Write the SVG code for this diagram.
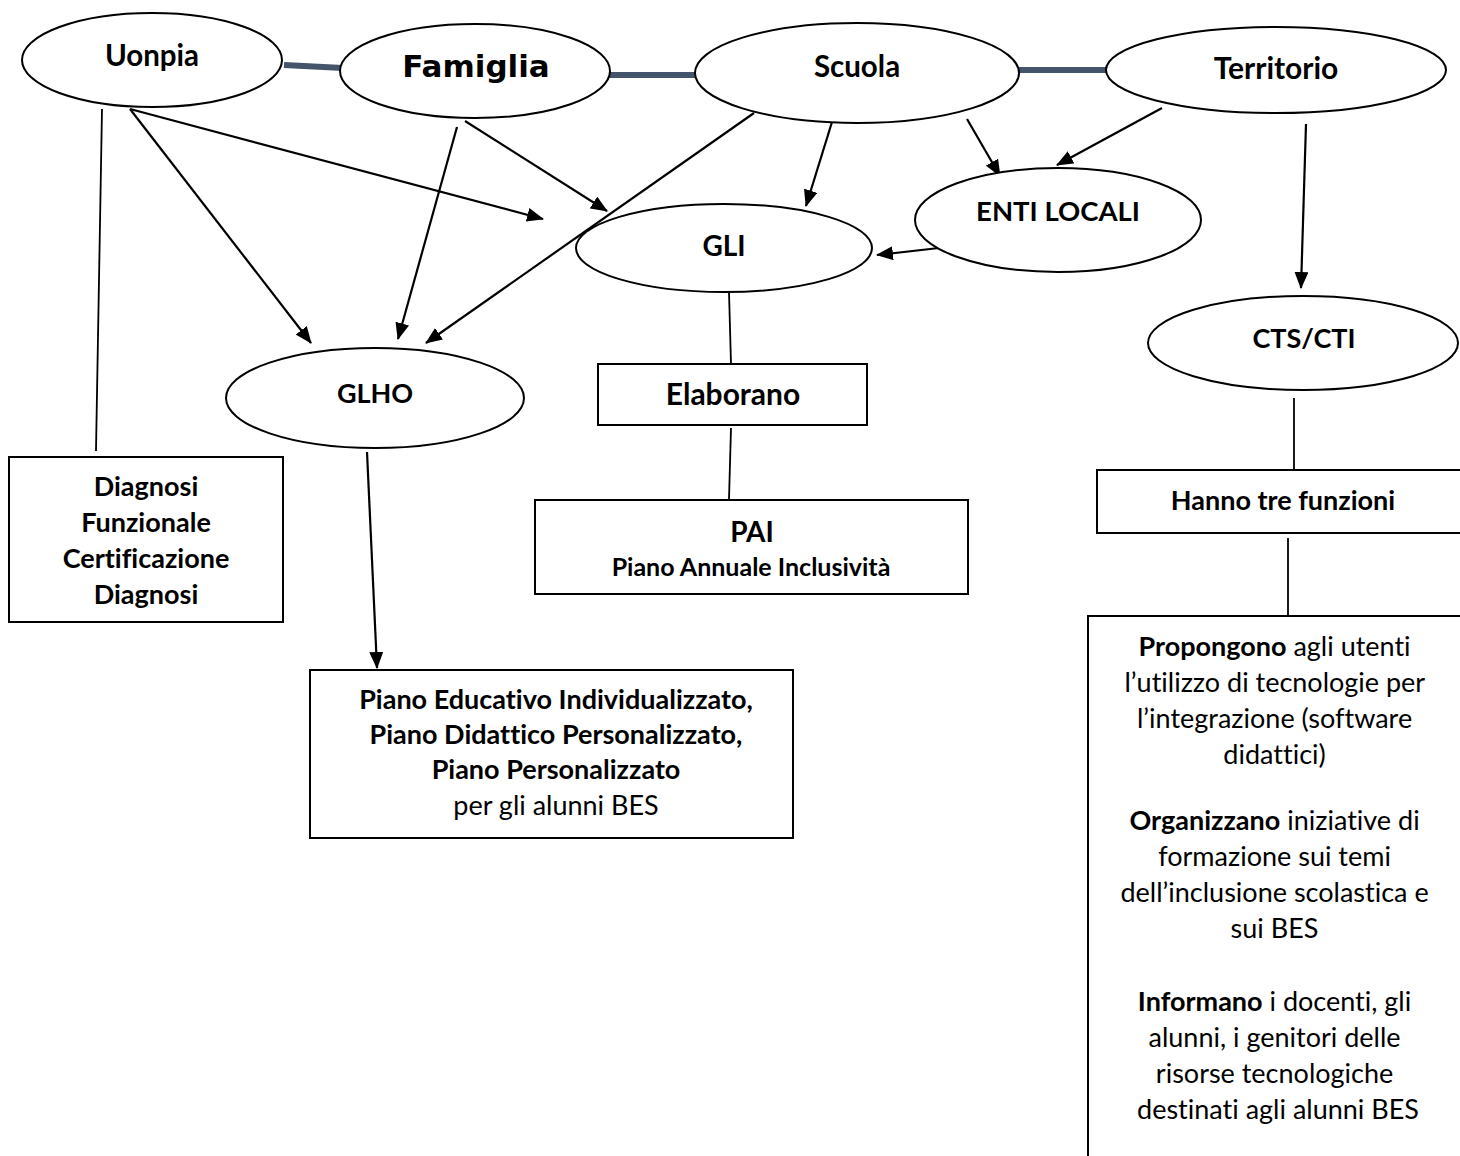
<svg xmlns="http://www.w3.org/2000/svg" width="1460" height="1156" viewBox="0 0 1460 1156">
<defs>
<style>
text{font-variant-ligatures:none;font-feature-settings:"liga" 0,"clig" 0,"dlig" 0}
.n{fill:#fff;stroke:#000;stroke-width:2}
.t{font-family:Lato,"Liberation Sans",sans-serif;font-weight:bold;font-size:28px;text-anchor:middle;fill:#000}
.b{font-family:Lato,"Liberation Sans",sans-serif;font-size:27px;text-anchor:middle;fill:#000}
.a{stroke:#000;stroke-width:2.2;fill:none;marker-end:url(#ah)}
.l{stroke:#000;stroke-width:1.8;fill:none}
.k{stroke:#44546A;stroke-width:6;fill:none}
</style>
<marker id="ah" markerUnits="userSpaceOnUse" markerWidth="17" markerHeight="14" refX="16" refY="7" orient="auto">
<path d="M0,0 L17,7 L0,14 z" fill="#000"/>
</marker>
</defs>
<rect width="1460" height="1156" fill="#fff"/>
<g id="connectors">
<line class="k" x1="284" y1="65" x2="343" y2="68"/>
<line class="k" x1="609" y1="75" x2="695" y2="75"/>
<line class="k" x1="1018" y1="70" x2="1107" y2="70"/>
<line class="l" x1="102" y1="109" x2="96" y2="451"/>
<line class="l" x1="729" y1="292" x2="731" y2="364"/>
<line class="l" x1="731" y1="428" x2="729" y2="499"/>
<line class="l" x1="1294" y1="398" x2="1294" y2="470"/>
<line class="l" x1="1288" y1="538" x2="1288" y2="616"/>
<line class="a" x1="130" y1="109" x2="311" y2="343"/>
<line class="a" x1="130" y1="109" x2="543" y2="219"/>
<line class="a" x1="457" y1="127" x2="398" y2="339"/>
<line class="a" x1="465" y1="121" x2="607" y2="211"/>
<line class="a" x1="754" y1="113" x2="426" y2="343"/>
<line class="a" x1="832" y1="122" x2="806" y2="206"/>
<line class="a" x1="967" y1="119" x2="1000" y2="176"/>
<line class="a" x1="1162" y1="108" x2="1057" y2="165"/>
<line class="a" x1="939" y1="248" x2="877" y2="255"/>
<line class="a" x1="1306" y1="124" x2="1301" y2="288"/>
<line class="a" x1="367" y1="452" x2="377" y2="668"/>
</g>
<g id="uonpia"><ellipse class="n" cx="152" cy="60" rx="130" ry="47"/><text class="t" x="152" y="66" style="font-size:29.5px">Uonpia</text></g>
<g id="famiglia"><ellipse class="n" cx="475" cy="71" rx="135" ry="47"/><text x="476" y="77" style="font-family:'DejaVu Sans',sans-serif;font-weight:bold;font-size:31px;text-anchor:middle">Famiglia</text></g>
<g id="scuola"><ellipse class="n" cx="857" cy="73" rx="162" ry="50"/><text class="t" x="857" y="77" style="font-size:29.5px">Scuola</text></g>
<g id="territorio"><ellipse class="n" cx="1276" cy="70" rx="170" ry="43"/><text class="t" x="1276" y="79" style="font-size:30px">Territorio</text></g>
<g id="gli"><ellipse class="n" cx="724" cy="248" rx="148" ry="44"/><text class="t" x="724" y="256">GLI</text></g>
<g id="enti-locali"><ellipse class="n" cx="1058" cy="220" rx="143" ry="52"/><text class="t" x="1058" y="221" style="font-size:27.5px">ENTI LOCALI</text></g>
<g id="cts-cti"><ellipse class="n" cx="1303" cy="343" rx="155" ry="47"/><text class="t" x="1304" y="348" style="font-size:27px">CTS/CTI</text></g>
<g id="glho"><ellipse class="n" cx="375" cy="398" rx="149" ry="50"/><text class="t" x="375" y="403" style="font-size:27px">GLHO</text></g>
<g id="elaborano"><rect class="n" x="598" y="364" width="269" height="61"/><text class="t" x="733" y="405" style="font-size:30px">Elaborano</text></g>
<g id="pai"><rect class="n" x="535" y="500" width="433" height="94"/><text class="t" x="752" y="542">PAI</text><text class="t" x="751" y="576" style="font-size:25px">Piano Annuale Inclusività</text></g>
<g id="diagnosi"><rect class="n" x="9" y="457" width="274" height="165"/>
<text class="t" style="font-size:27px"><tspan x="146" y="496">Diagnosi</tspan><tspan x="146" y="532">Funzionale</tspan><tspan x="146" y="568">Certificazione</tspan><tspan x="146" y="604">Diagnosi</tspan></text></g>
<g id="piani"><rect class="n" x="310" y="670" width="483" height="168"/>
<text class="t" style="font-size:27px"><tspan x="556" y="709">Piano Educativo Individualizzato,</tspan><tspan x="556" y="744">Piano Didattico Personalizzato,</tspan><tspan x="556" y="779">Piano Personalizzato</tspan></text>
<text class="b" x="556" y="815">per gli alunni BES</text></g>
<g id="hanno"><rect class="n" x="1097" y="470" width="373" height="63"/><text class="t" x="1283" y="510" style="font-size:27px">Hanno tre funzioni</text></g>
<g id="funzioni"><rect class="n" x="1088" y="616" width="382" height="560"/>
<text class="b">
<tspan x="1278" y="656"><tspan font-weight="bold">Propongono</tspan> agli utenti</tspan>
<tspan x="1278" y="692">l’utilizzo di tecnologie per</tspan>
<tspan x="1278" y="728">l’integrazione (software</tspan>
<tspan x="1278" y="764">didattici)</tspan>
<tspan x="1278" y="830"><tspan font-weight="bold">Organizzano</tspan> iniziative di</tspan>
<tspan x="1278" y="866">formazione sui temi</tspan>
<tspan x="1278" y="902">dell’inclusione scolastica e</tspan>
<tspan x="1278" y="938">sui BES</tspan>
<tspan x="1278" y="1011"><tspan font-weight="bold">Informano</tspan> i docenti, gli</tspan>
<tspan x="1278" y="1047">alunni, i genitori delle</tspan>
<tspan x="1278" y="1083">risorse tecnologiche</tspan>
<tspan x="1278" y="1119">destinati agli alunni BES</tspan>
</text></g>
</svg>
